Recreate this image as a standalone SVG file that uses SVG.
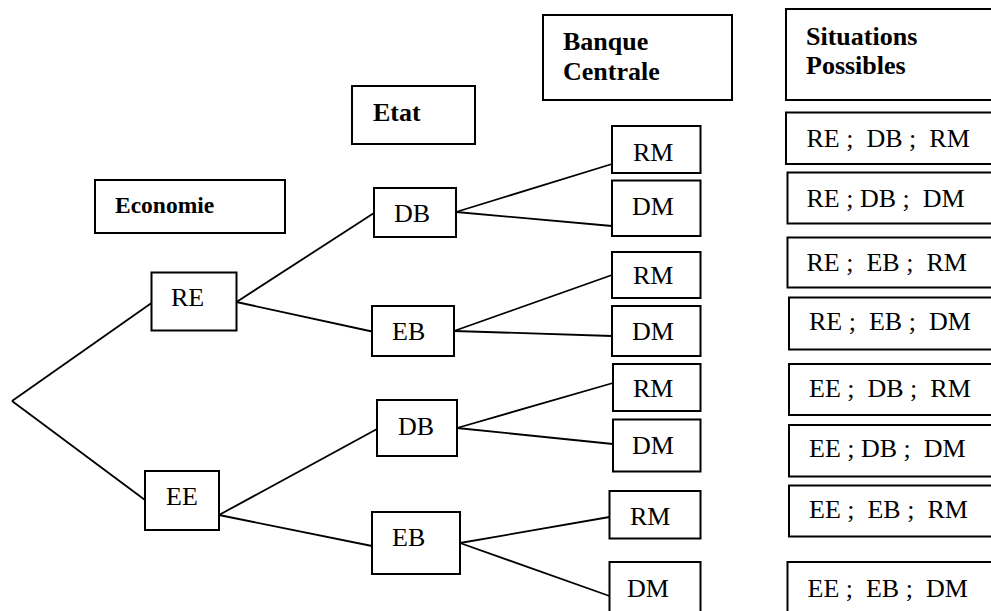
<svg xmlns="http://www.w3.org/2000/svg" width="991" height="611" viewBox="0 0 991 611">
<style>
  .box { fill: #fff; stroke: #000; stroke-width: 2; }
  .hd { font-family: 'Liberation Serif', 'Tinos', 'Times New Roman', 'DejaVu Serif', serif; font-weight: bold; font-size: 26px; fill: #000; }
  .tx { font-family: 'Liberation Serif', 'Tinos', 'Times New Roman', 'DejaVu Serif', serif; font-size: 26px; fill: #000; }
  .ln { stroke: #000; stroke-width: 1.8; fill: none; }
</style>
<rect x="0" y="0" width="991" height="611" fill="#fff"/>

<g id="connectors">
  <line class="ln" x1="12" y1="401" x2="151.5" y2="303"/>
  <line class="ln" x1="12" y1="401" x2="145" y2="500"/>
  <line class="ln" x1="236.5" y1="302" x2="374" y2="213"/>
  <line class="ln" x1="236.5" y1="302" x2="372" y2="331.5"/>
  <line class="ln" x1="219" y1="515" x2="377" y2="429"/>
  <line class="ln" x1="219" y1="515" x2="372" y2="546"/>
  <line class="ln" x1="456" y1="212" x2="612" y2="164"/>
  <line class="ln" x1="456" y1="212" x2="612" y2="226"/>
  <line class="ln" x1="454" y1="331" x2="612" y2="275"/>
  <line class="ln" x1="454" y1="331" x2="612" y2="336"/>
  <line class="ln" x1="457" y1="428" x2="613" y2="383"/>
  <line class="ln" x1="457" y1="428" x2="613" y2="444"/>
  <line class="ln" x1="460" y1="543" x2="609.5" y2="517"/>
  <line class="ln" x1="460" y1="543" x2="609.5" y2="596"/>
</g>

<g id="h-economie">
  <rect class="box" x="95" y="180" width="190" height="53"/>
  <text class="hd" x="115" y="213" font-family="Liberation Serif, serif" style="font-size:23.5px">Economie</text>
</g>
<g id="h-etat">
  <rect class="box" x="352" y="86" width="123" height="58"/>
  <text class="hd" x="373" y="121">Etat</text>
</g>
<g id="h-banque">
  <rect class="box" x="543" y="15" width="189" height="85"/>
  <text class="hd" x="563" y="50">Banque</text>
  <text class="hd" x="563" y="80">Centrale</text>
</g>
<g id="h-situations">
  <rect class="box" x="786" y="9" width="220" height="91"/>
  <text class="hd" x="806" y="45">Situations</text>
  <text class="hd" x="806" y="74">Possibles</text>
</g>

<g id="n-re">
  <rect class="box" x="151.5" y="272.5" width="85" height="58"/>
  <text class="tx" x="171" y="306">RE</text>
</g>
<g id="n-ee">
  <rect class="box" x="145" y="471" width="74" height="59"/>
  <text class="tx" x="166" y="505">EE</text>
</g>

<g id="n-db1">
  <rect class="box" x="374" y="188" width="82" height="49"/>
  <text class="tx" x="394" y="222">DB</text>
</g>
<g id="n-eb1">
  <rect class="box" x="372" y="306" width="82" height="50"/>
  <text class="tx" x="392" y="340">EB</text>
</g>
<g id="n-db2">
  <rect class="box" x="377" y="400" width="80" height="56"/>
  <text class="tx" x="398" y="435">DB</text>
</g>
<g id="n-eb2">
  <rect class="box" x="372" y="512" width="88" height="62"/>
  <text class="tx" x="392" y="546">EB</text>
</g>

<g id="n-rm1">
  <rect class="box" x="612" y="126" width="88.5" height="47"/>
  <text class="tx" x="633" y="161">RM</text>
</g>
<g id="n-dm1">
  <rect class="box" x="612" y="180.5" width="88.5" height="55.5"/>
  <text class="tx" x="632" y="215">DM</text>
</g>
<g id="n-rm2">
  <rect class="box" x="612" y="252" width="88.5" height="46"/>
  <text class="tx" x="633" y="284">RM</text>
</g>
<g id="n-dm2">
  <rect class="box" x="612" y="306" width="88.5" height="50"/>
  <text class="tx" x="632" y="340">DM</text>
</g>
<g id="n-rm3">
  <rect class="box" x="613" y="364" width="87.5" height="47"/>
  <text class="tx" x="633" y="397">RM</text>
</g>
<g id="n-dm3">
  <rect class="box" x="613" y="419.5" width="87.5" height="52"/>
  <text class="tx" x="632" y="454">DM</text>
</g>
<g id="n-rm4">
  <rect class="box" x="609.5" y="491" width="91" height="47.5"/>
  <text class="tx" x="630" y="525">RM</text>
</g>
<g id="n-dm4">
  <rect class="box" x="609.5" y="562" width="91" height="60"/>
  <text class="tx" x="627" y="597">DM</text>
</g>

<g id="s1">
  <rect class="box" x="786" y="112.5" width="220" height="51.5"/>
  <text class="tx" x="806.5" y="147" xml:space="preserve">RE ;  DB ;  RM</text>
</g>
<g id="s2">
  <rect class="box" x="787.5" y="172.5" width="220" height="51"/>
  <text class="tx" x="806.5" y="207" xml:space="preserve">RE ; DB ;  DM</text>
</g>
<g id="s3">
  <rect class="box" x="787.5" y="237.5" width="220" height="50"/>
  <text class="tx" x="806.5" y="271" xml:space="preserve">RE ;  EB ;  RM</text>
</g>
<g id="s4">
  <rect class="box" x="789" y="297.5" width="220" height="52"/>
  <text class="tx" x="809" y="330" xml:space="preserve">RE ;  EB ;  DM</text>
</g>
<g id="s5">
  <rect class="box" x="789" y="364" width="220" height="51"/>
  <text class="tx" x="809" y="397" xml:space="preserve">EE ;  DB ;  RM</text>
</g>
<g id="s6">
  <rect class="box" x="789" y="425" width="220" height="51.5"/>
  <text class="tx" x="809" y="457" xml:space="preserve">EE ; DB ;  DM</text>
</g>
<g id="s7">
  <rect class="box" x="789" y="485.5" width="220" height="51"/>
  <text class="tx" x="809" y="518" xml:space="preserve">EE ;  EB ;  RM</text>
</g>
<g id="s8">
  <rect class="box" x="787.5" y="562" width="220" height="60"/>
  <text class="tx" x="807.5" y="597" xml:space="preserve">EE ;  EB ;  DM</text>
</g>
</svg>
